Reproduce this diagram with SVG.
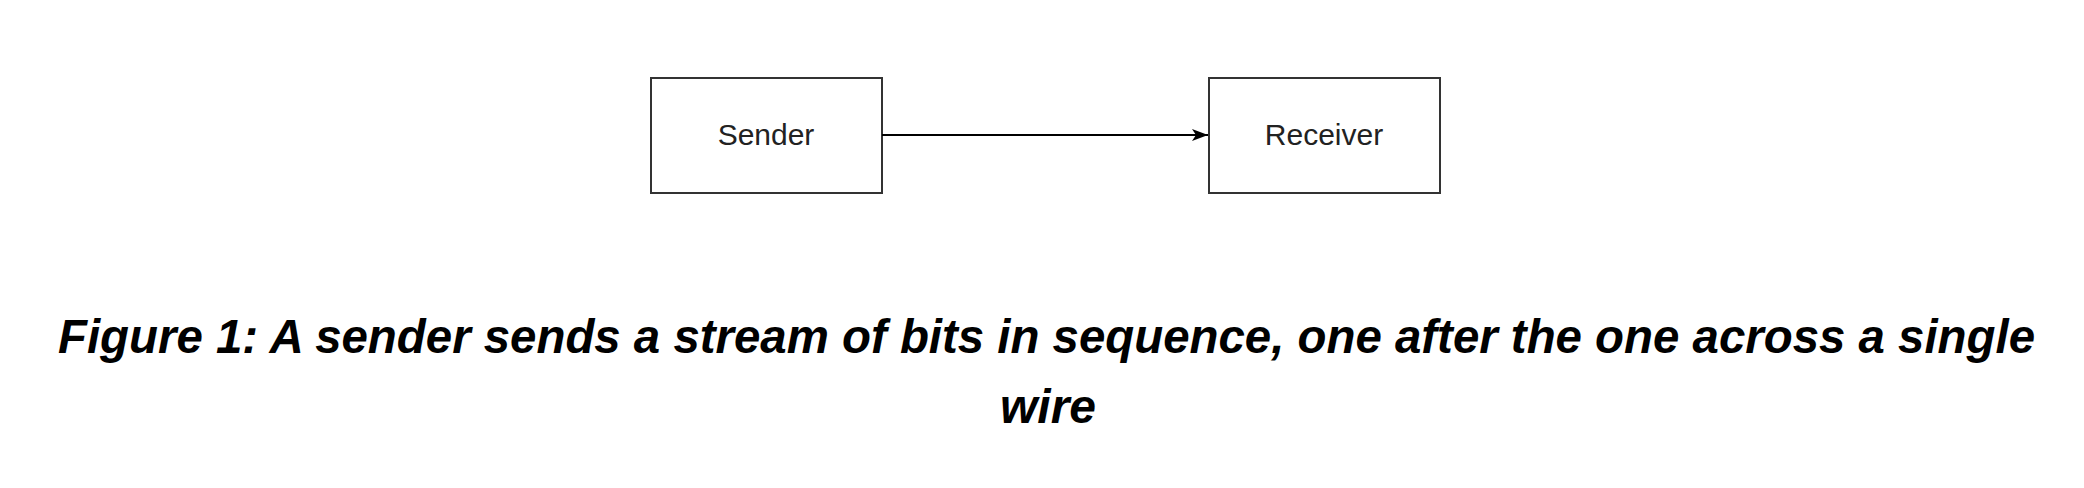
<svg xmlns="http://www.w3.org/2000/svg" width="2084" height="488" viewBox="0 0 2084 488">
<style>
.box{fill:#fff;stroke:#333;stroke-width:2}
.lbl{font-family:"Liberation Sans",Arial,sans-serif;font-size:30px;fill:#222;text-anchor:middle}
.cap{font-family:"Liberation Sans",Arial,sans-serif;font-size:48px;font-weight:bold;font-style:italic;fill:#000;text-anchor:middle}
.edge{stroke:#000;stroke-width:2;fill:none}
</style>
<defs>
<marker id="arr" markerWidth="16" markerHeight="12" refX="16" refY="6" orient="auto" markerUnits="userSpaceOnUse" viewBox="0 0 16 12">
<path d="M0,0 L16,6 L0,12 L4,6 Z" fill="#000"/>
</marker>
</defs>
<rect width="2084" height="488" fill="#fff"/>
<g id="sender">
<rect class="box" x="651" y="78" width="231" height="115"/>
<text class="lbl" x="766" y="145">Sender</text>
</g>
<g id="receiver">
<rect class="box" x="1209" y="78" width="231" height="115"/>
<text class="lbl" x="1324" y="145">Receiver</text>
</g>
<g id="connectors">
<line class="edge" x1="882" y1="135" x2="1208" y2="135" marker-end="url(#arr)"/>
</g>
<g id="caption">
<text class="cap" x="1046.5" y="353" textLength="1977" lengthAdjust="spacingAndGlyphs">Figure 1: A sender sends a stream of bits in sequence, one after the one across a single</text>
<text class="cap" x="1048" y="423">wire</text>
</g>
</svg>
